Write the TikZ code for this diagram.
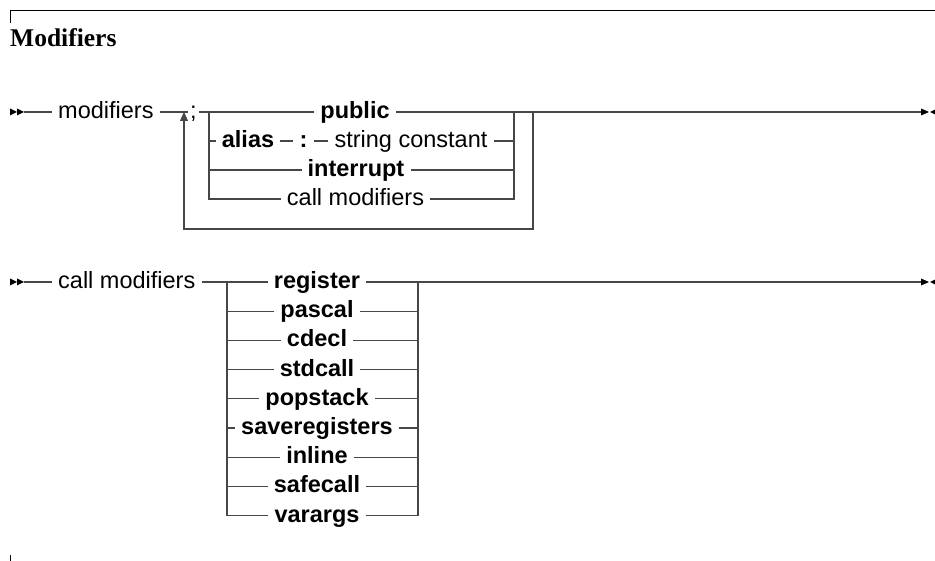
\documentclass[tikz,border=0pt]{standalone}
\usepackage{fontspec}
\setmainfont{Liberation Serif}
\setsansfont{Liberation Sans}
\usetikzlibrary{arrows.meta}
\begin{document}
\begin{tikzpicture}[x=1pt,y=-1pt,
  rail/.style={draw=black!72, line width=1.1pt},
  railtxt/.style={inner xsep=6pt, inner ysep=0pt, text height=17pt, text depth=4pt},
  term/.style={railtxt, font=\sffamily\bfseries\fontsize{23.5}{28}\selectfont},
  nonterm/.style={railtxt, font=\sffamily\fontsize{23.5}{28}\selectfont},
  tip/.style={fill=black},
  loopy/.style={rail, -{Triangle[length=9pt,width=8pt]}}
]
\useasboundingbox (0,0) rectangle (935,561);

% frame
\draw[line width=1pt] (10,23) -- (10,11) -- (935,11);
\draw[line width=1pt] (10,555) -- (10,561);
\node[anchor=base west, inner sep=0pt, font=\bfseries\fontsize{25.5}{30}\selectfont] (title) at (10,47) {Modifiers};

% ---------- row 1 ----------
\coordinate (s1) at (24,112);
\fill[tip] (10,108.5) -- (17,112) -- (10,115.5) -- cycle;
\fill[tip] (17,108.5) -- (24,112) -- (17,115.5) -- cycle;
\node[nonterm, anchor=west] (mod) at (52,112) {modifiers};
\coordinate (j1) at (184,112);
\node[nonterm, inner xsep=2pt] (semi) at (193.5,112) {;};
\coordinate (b1tl) at (209,112);
\coordinate (b1tr) at (514,112);
\coordinate (lr1) at (533,112);
\coordinate (lowy) at (0,229);
\coordinate (e1) at (921,112);

\node[term] (public) at (355,112) {public};
\node[term] (alias) at (248,141) {alias};
\node[term, inner xsep=6pt] (colon) at (303.5,141) {:};
\node[nonterm] (strc) at (411,141) {string constant};
\node[term] (intr) at (356,170) {interrupt};
\node[nonterm] (callm) at (355.5,199) {call modifiers};

\draw[rail] (s1) -- (mod.west);
\draw[rail] (mod.east) -- (semi.west);
\draw[rail] (semi.east) -- (b1tl);
\draw[rail] (b1tl) -- (public.west);
\draw[rail] (public.east) -- (e1);
\draw[rail] (b1tl) |- (callm.west);
\draw[rail] (callm.east) -| (b1tr);
\draw[rail] (alias.west -| b1tl) -- (alias.west);
\draw[rail] (alias.east) -- (colon.west);
\draw[rail] (colon.east) -- (strc.west);
\draw[rail] (strc.east) -- (strc.east -| b1tr);
\draw[rail] (intr.west -| b1tl) -- (intr.west);
\draw[rail] (intr.east) -- (intr.east -| b1tr);
\draw[loopy] (lr1) -- (lr1 |- lowy) -- (j1 |- lowy) -- (j1);
\fill[tip] (921,108.5) -- (929,112) -- (921,115.5) -- cycle;
\fill[tip] (930,112) -- (937,108.5) -- (937,115.5) -- cycle;

% ---------- row 2 ----------
\coordinate (s2) at (24,282);
\fill[tip] (10,278.5) -- (17,282) -- (10,285.5) -- cycle;
\fill[tip] (17,278.5) -- (24,282) -- (17,285.5) -- cycle;
\node[nonterm, anchor=west] (cm2) at (52,282) {call modifiers};
\coordinate (b2tl) at (227,282);
\coordinate (b2tr) at (418,282);
\coordinate (e2) at (921,282);

\node[term] (o1) at (317,282) {register};
\node[term] (o2) at (317,311.2) {pascal};
\node[term] (o3) at (317,340.4) {cdecl};
\node[term] (o4) at (317,369.6) {stdcall};
\node[term] (o5) at (317,398.8) {popstack};
\node[term] (o6) at (317,428) {saveregisters};
\node[term] (o7) at (317,457.2) {inline};
\node[term] (o8) at (317,486.4) {safecall};
\node[term] (o9) at (317,515.6) {varargs};

\draw[rail] (s2) -- (cm2.west);
\draw[rail] (cm2.east) -- (o1.west);
\draw[rail] (o1.east) -- (e2);
\draw[rail] (b2tl) |- (o9.west);
\draw[rail] (o9.east) -| (b2tr);
\foreach \i in {2,...,8} {
  \draw[rail] (o\i.west -| b2tl) -- (o\i.west);
  \draw[rail] (o\i.east) -- (o\i.east -| b2tr);
}
\fill[tip] (921,278.5) -- (929,282) -- (921,285.5) -- cycle;
\fill[tip] (930,282) -- (937,278.5) -- (937,285.5) -- cycle;
\end{tikzpicture}
\end{document}
